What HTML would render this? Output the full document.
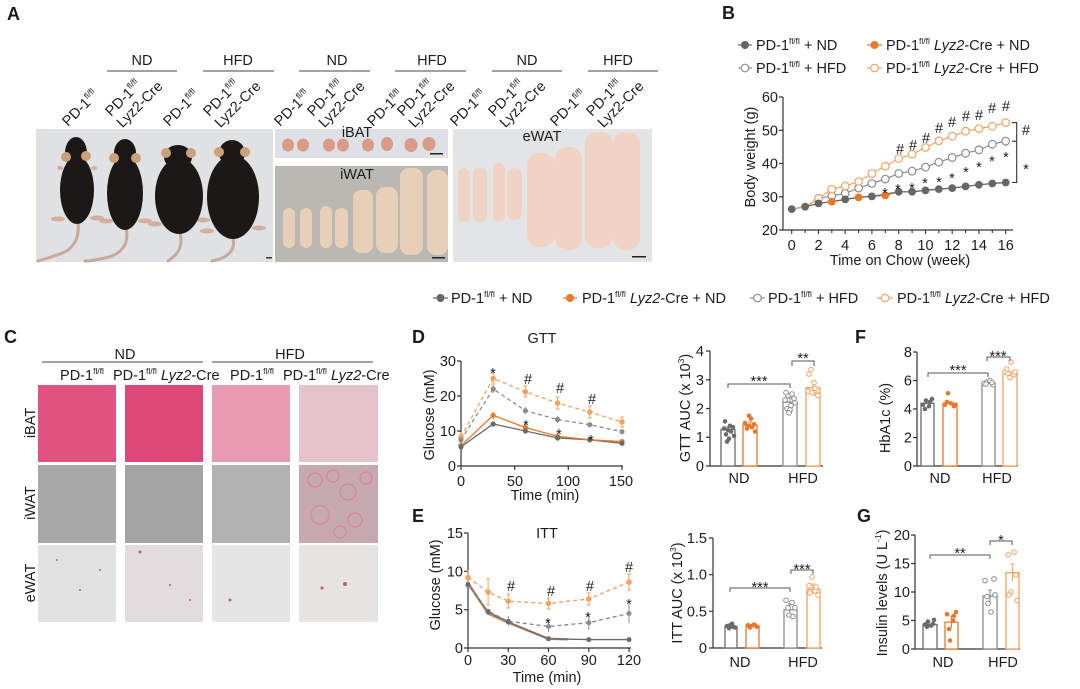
<!DOCTYPE html>
<html><head><meta charset="utf-8"><style>
html,body{margin:0;padding:0;background:#fff;}
svg{display:block;}
text{font-family:"Liberation Sans",Arial,sans-serif;fill:#1c1c1c;font-size:14.5px;}
.L{font-size:18px;font-weight:bold;}
.s{font-size:17px;}
.st{font-size:20px;}
.ss{font-size:20px;}
.ax{stroke:#333;stroke-width:1.2;fill:none;}
</style></head><body>
<svg width="1080" height="689" viewBox="0 0 1080 689" xmlns="http://www.w3.org/2000/svg">
<rect width="1080" height="689" fill="#fff"/>

<!-- ================= PANEL A ================= -->
<text class="L" x="7" y="20">A</text>
<g text-anchor="middle">
<text x="142" y="65">ND</text><text x="238" y="65">HFD</text>
<text x="337" y="65">ND</text><text x="432" y="65">HFD</text>
<text x="527" y="65">ND</text><text x="618" y="65">HFD</text>
</g>
<path d="M107,71H177M203,71H274M299,71H370M395,71H466M492,71H562M588,71H658" stroke="#444" stroke-width="1"/>

<g>
<text transform="translate(68,127) rotate(-45)">PD-1<tspan dy="-6" font-size="8.5">fl/fl</tspan></text>
<text transform="translate(169,127) rotate(-45)">PD-1<tspan dy="-6" font-size="8.5">fl/fl</tspan></text>
<text transform="translate(280,127) rotate(-45)">PD-1<tspan dy="-6" font-size="8.5">fl/fl</tspan></text>
<text transform="translate(373,127) rotate(-45)">PD-1<tspan dy="-6" font-size="8.5">fl/fl</tspan></text>
<text transform="translate(456,127) rotate(-45)">PD-1<tspan dy="-6" font-size="8.5">fl/fl</tspan></text>
<text transform="translate(556,127) rotate(-45)">PD-1<tspan dy="-6" font-size="8.5">fl/fl</tspan></text>
<g transform="translate(111,117) rotate(-45)"><text>PD-1<tspan dy="-6" font-size="8.5">fl/fl</tspan></text><text y="16">Lyz2-Cre</text></g>
<g transform="translate(209,117) rotate(-45)"><text>PD-1<tspan dy="-6" font-size="8.5">fl/fl</tspan></text><text y="16">Lyz2-Cre</text></g>
<g transform="translate(313,117) rotate(-45)"><text>PD-1<tspan dy="-6" font-size="8.5">fl/fl</tspan></text><text y="16">Lyz2-Cre</text></g>
<g transform="translate(403,117) rotate(-45)"><text>PD-1<tspan dy="-6" font-size="8.5">fl/fl</tspan></text><text y="16">Lyz2-Cre</text></g>
<g transform="translate(494,117) rotate(-45)"><text>PD-1<tspan dy="-6" font-size="8.5">fl/fl</tspan></text><text y="16">Lyz2-Cre</text></g>
<g transform="translate(592,117) rotate(-45)"><text>PD-1<tspan dy="-6" font-size="8.5">fl/fl</tspan></text><text y="16">Lyz2-Cre</text></g>
</g>

<!-- mouse photo -->
<rect x="36" y="129" width="237" height="133" fill="#dfe1e3"/>
<g fill="none" stroke="#c8a99c" stroke-width="3" stroke-linecap="round">
<path d="M78,222 C80,240 72,250 60,254 S42,260 38,261"/>
<path d="M126,228 C130,245 120,255 105,258 S90,261 85,261"/>
<path d="M180,233 C184,248 176,256 168,261"/>
<path d="M233,238 C236,250 228,258 212,261"/>
</g>
<g fill="#d2ae9f">
<ellipse cx="58" cy="219" rx="7" ry="2.5"/><ellipse cx="97" cy="218" rx="7" ry="2.5"/>
<ellipse cx="106" cy="221" rx="7" ry="2.5"/><ellipse cx="145" cy="221" rx="7" ry="2.5"/>
<ellipse cx="155" cy="224" rx="7" ry="2.5"/><ellipse cx="203" cy="220" rx="7" ry="2.5"/>
<ellipse cx="207" cy="231" rx="7" ry="2.5"/><ellipse cx="259" cy="228" rx="7" ry="2.5"/>
<ellipse cx="60" cy="168" rx="3" ry="2"/><ellipse cx="94" cy="168" rx="3" ry="2"/>
</g>
<g fill="#1c1816">
<ellipse cx="77" cy="190" rx="17" ry="34"/><ellipse cx="76" cy="153" rx="11" ry="16"/>
<ellipse cx="125" cy="193" rx="18" ry="37"/><ellipse cx="125" cy="153" rx="11" ry="14"/>
<ellipse cx="179" cy="196" rx="24" ry="38"/><ellipse cx="178" cy="157" rx="14" ry="12"/>
<ellipse cx="233" cy="197" rx="26" ry="42"/><ellipse cx="232" cy="153" rx="13" ry="13"/>
</g>
<g fill="#c9a27c">
<circle cx="66" cy="157" r="5"/><circle cx="86" cy="156" r="5"/>
<circle cx="114" cy="158" r="5"/><circle cx="136" cy="158" r="5"/>
<circle cx="166" cy="153" r="5"/><circle cx="191" cy="153" r="5"/>
<circle cx="219" cy="152" r="5"/><circle cx="245" cy="152" r="5"/>
</g>
<rect x="266" y="257" width="6" height="1.5" fill="#333"/>

<!-- iBAT -->
<rect x="275" y="129" width="173" height="29" fill="#dde0e4"/>
<g fill="#d99a88">
<ellipse cx="288" cy="145" rx="6" ry="6.5"/><ellipse cx="303" cy="145" rx="6" ry="6.5"/>
<ellipse cx="329" cy="145" rx="6" ry="6.5"/><ellipse cx="343" cy="145" rx="6" ry="6.5"/>
<ellipse cx="368" cy="145" rx="6" ry="6.5"/><ellipse cx="387" cy="144" rx="6" ry="7"/>
<ellipse cx="411" cy="145" rx="6.5" ry="7"/><ellipse cx="429" cy="144" rx="6.5" ry="7"/>
</g>
<text x="357" y="137" text-anchor="middle" font-size="10" fill="#444">iBAT</text>
<rect x="430" y="153" width="13" height="1.5" fill="#222"/>

<!-- iWAT -->
<rect x="275" y="166" width="173" height="96" fill="#b9b8b2"/>
<g fill="#e8d0b8">
<rect x="283" y="208" width="12" height="40" rx="6"/>
<rect x="300" y="208" width="12" height="40" rx="6"/>
<rect x="320" y="206" width="12" height="42" rx="6"/>
<rect x="335" y="208" width="13" height="40" rx="6"/>
<rect x="353" y="190" width="20" height="63" rx="8"/>
<rect x="376" y="187" width="22" height="66" rx="9"/>
<rect x="400" y="168" width="23" height="87" rx="9"/>
<rect x="427" y="170" width="21" height="85" rx="9"/>
</g>
<text x="357" y="179" text-anchor="middle" font-size="10" fill="#444">iWAT</text>
<rect x="432" y="257" width="13" height="1.5" fill="#222"/>

<!-- eWAT -->
<rect x="453" y="129" width="199" height="133" fill="#e3e4e5"/>
<g fill="#f0d3c4">
<rect x="458" y="168" width="12" height="54" rx="6"/>
<rect x="473" y="168" width="14" height="54" rx="6"/>
<rect x="493" y="163" width="12" height="59" rx="6"/>
<rect x="507" y="168" width="15" height="52" rx="7"/>
<rect x="527" y="153" width="28" height="94" rx="12"/>
<rect x="555" y="147" width="27" height="103" rx="12"/>
<rect x="585" y="132" width="28" height="116" rx="12"/>
<rect x="613" y="132" width="27" height="118" rx="12"/>
</g>
<text x="542" y="141" text-anchor="middle" font-size="10" fill="#444">eWAT</text>
<rect x="632" y="256" width="14" height="1.5" fill="#222"/>

<!-- ================= PANEL B ================= -->
<text class="L" x="722" y="19">B</text>
<path d="M738,45H752" stroke="#666" stroke-width="1.2"/><circle cx="745" cy="45" r="4" fill="#666"/>
<text x="756" y="50">PD-1<tspan dy="-6" font-size="8.5">fl/fl</tspan><tspan dy="6"> + ND</tspan></text>
<path d="M867,45H882" stroke="#e8782a" stroke-width="1.2"/><circle cx="874.5" cy="45" r="4" fill="#e8782a"/>
<text x="886" y="50">PD-1<tspan dy="-6" font-size="8.5">fl/fl</tspan><tspan dy="6"> </tspan><tspan font-style="italic">Lyz2</tspan>-Cre + ND</text>
<path d="M738,68H752" stroke="#8c8c8c" stroke-width="1.2"/><circle cx="745" cy="68" r="3.8" fill="#fff" stroke="#8c8c8c" stroke-width="1.2"/>
<text x="756" y="73">PD-1<tspan dy="-6" font-size="8.5">fl/fl</tspan><tspan dy="6"> + HFD</tspan></text>
<path d="M867,68H882" stroke="#f2a263" stroke-width="1.2"/><circle cx="874.5" cy="68" r="3.8" fill="#fff" stroke="#f2a263" stroke-width="1.2"/>
<text x="886" y="73">PD-1<tspan dy="-6" font-size="8.5">fl/fl</tspan><tspan dy="6"> </tspan><tspan font-style="italic">Lyz2</tspan>-Cre + HFD</text>

<path class="ax" d="M783,97V230H1013"/>
<path d="M779,230h4M779,196.75h4M779,163.5h4M779,130.25h4M779,97h4" stroke="#333" stroke-width="1.2"/>
<path d="M791.7,230v4M805.1,230v3M818.5,230v4M831.8,230v3M845.2,230v4M858.6,230v3M871.9,230v4M885.3,230v3M898.7,230v4M912.1,230v3M925.5,230v4M938.8,230v3M952.2,230v4M965.6,230v3M978.9,230v4M992.3,230v3M1005.7,230v4" stroke="#333" stroke-width="1.1"/>
<g text-anchor="end">
<text x="778" y="235">20</text><text x="778" y="201.75">30</text><text x="778" y="168.5">40</text><text x="778" y="135.25">50</text><text x="778" y="102">60</text>
</g>
<g text-anchor="middle">
<text x="791.7" y="250">0</text><text x="818.5" y="250">2</text><text x="845.2" y="250">4</text><text x="871.9" y="250">6</text><text x="898.7" y="250">8</text><text x="925.5" y="250">10</text><text x="952.2" y="250">12</text><text x="978.9" y="250">14</text><text x="1005.7" y="250">16</text>
<text x="900" y="265">Time on Chow (week)</text>
<text transform="translate(755,157) rotate(-90)">Body weight (g)</text>
</g>

<g fill="none" stroke-width="1.2">
<polyline stroke="#e8782a" points="791.7,209.1 805.1,206.7 818.5,203.4 831.8,201.7 845.2,199.4 858.6,197.4 871.9,196.4 885.3,195.4 898.7,191.8 912.1,191.8 925.5,190.4 938.8,189.1 952.2,188.1 965.6,186.4 978.9,184.8 992.3,183.5 1005.7,182.5"/>
<polyline stroke="#666" points="791.7,209.1 805.1,206.7 818.5,203.4 831.8,201.7 845.2,199.4 858.6,197.4 871.9,196.4 885.3,194.1 898.7,191.8 912.1,191.8 925.5,190.4 938.8,189.1 952.2,188.1 965.6,186.4 978.9,184.8 992.3,183.5 1005.7,182.5"/>
<polyline stroke="#8c8c8c" points="791.7,209.1 805.1,206.7 818.5,198.4 831.8,195.8 845.2,193.4 858.6,188.1 871.9,183.5 885.3,179.1 898.7,173.5 912.1,171.1 925.5,167.2 938.8,162.2 952.2,157.5 965.6,153.2 978.9,149.9 992.3,144.2 1005.7,141.2"/>
<polyline stroke="#f2a263" points="791.7,209.1 805.1,206.7 818.5,198.4 831.8,189.1 845.2,186.1 858.6,181.5 871.9,173.5 885.3,166.2 898.7,158.5 912.1,154.2 925.5,147.5 938.8,140.9 952.2,136.2 965.6,131.2 978.9,128.6 992.3,126.3 1005.7,122.6"/>
</g>
<path d="M912.1,167v8M925.5,163v8M938.8,158v8M952.2,153v9M965.6,149v9M978.9,145v9M992.3,140v9M1005.7,137v9" stroke="#8c8c8c" stroke-width="1"/>
<path d="M925.5,144v7M938.8,137v8M952.2,132v8M965.6,127v8M978.9,125v7M992.3,122v8M1005.7,118v9" stroke="#f2a263" stroke-width="1"/>
<g fill="#fff" stroke="#8c8c8c" stroke-width="1.2">
<circle cx="818.5" cy="198.4" r="3.8"/><circle cx="831.8" cy="195.8" r="3.8"/><circle cx="845.2" cy="193.4" r="3.8"/><circle cx="858.6" cy="188.1" r="3.8"/><circle cx="871.9" cy="183.5" r="3.8"/><circle cx="885.3" cy="179.1" r="3.8"/><circle cx="898.7" cy="173.5" r="3.8"/><circle cx="912.1" cy="171.1" r="3.8"/><circle cx="925.5" cy="167.2" r="3.8"/><circle cx="938.8" cy="162.2" r="3.8"/><circle cx="952.2" cy="157.5" r="3.8"/><circle cx="965.6" cy="153.2" r="3.8"/><circle cx="978.9" cy="149.9" r="3.8"/><circle cx="992.3" cy="144.2" r="3.8"/><circle cx="1005.7" cy="141.2" r="3.8"/>
</g>
<g fill="#fff" stroke="#f2a263" stroke-width="1.2">
<circle cx="818.5" cy="198.4" r="3.8"/><circle cx="831.8" cy="189.1" r="3.8"/><circle cx="845.2" cy="186.1" r="3.8"/><circle cx="858.6" cy="181.5" r="3.8"/><circle cx="871.9" cy="173.5" r="3.8"/><circle cx="885.3" cy="166.2" r="3.8"/><circle cx="898.7" cy="158.5" r="3.8"/><circle cx="912.1" cy="154.2" r="3.8"/><circle cx="925.5" cy="147.5" r="3.8"/><circle cx="938.8" cy="140.9" r="3.8"/><circle cx="952.2" cy="136.2" r="3.8"/><circle cx="965.6" cy="131.2" r="3.8"/><circle cx="978.9" cy="128.6" r="3.8"/><circle cx="992.3" cy="126.3" r="3.8"/><circle cx="1005.7" cy="122.6" r="3.8"/>
</g>
<g fill="#666">
<circle cx="791.7" cy="209.1" r="3.9"/><circle cx="805.1" cy="206.7" r="3.9"/><circle cx="818.5" cy="203.4" r="3.9"/><circle cx="845.2" cy="199.4" r="3.9"/><circle cx="871.9" cy="196.4" r="3.9"/><circle cx="898.7" cy="191.8" r="3.9"/><circle cx="912.1" cy="191.8" r="3.9"/><circle cx="925.5" cy="190.4" r="3.9"/><circle cx="938.8" cy="189.1" r="3.9"/><circle cx="952.2" cy="188.1" r="3.9"/><circle cx="965.6" cy="186.4" r="3.9"/><circle cx="978.9" cy="184.8" r="3.9"/><circle cx="992.3" cy="183.5" r="3.9"/><circle cx="1005.7" cy="182.5" r="3.9"/>
</g>
<g fill="#e8782a">
<circle cx="831.8" cy="201.7" r="3.9"/><circle cx="858.6" cy="197.4" r="3.9"/><circle cx="885.3" cy="195.4" r="3.9"/>
</g>
<g text-anchor="middle" class="s">
<text x="900" y="154">#</text><text x="913" y="150">#</text><text x="926" y="143">#</text><text x="939" y="133">#</text><text x="952" y="127">#</text><text x="966" y="121">#</text><text x="979" y="120">#</text><text x="992" y="113">#</text><text x="1006" y="111">#</text>
<text x="1026" y="135">#</text>
</g>
<g text-anchor="middle" class="st">
<text x="885" y="198">*</text><text x="898" y="194">*</text><text x="912" y="193">*</text><text x="925" y="188">*</text><text x="939" y="187">*</text><text x="952" y="183">*</text><text x="966" y="177">*</text><text x="979" y="172">*</text><text x="992" y="166">*</text><text x="1006" y="162">*</text>
<text x="1026" y="174">*</text>
</g>
<path d="M1012,122.6H1016.7V182.5H1012M1012,141.2H1016.7" stroke="#333" stroke-width="1.1" fill="none"/>

<!-- ================= MAIN LEGEND ================= -->
<path d="M433,298H448" stroke="#666" stroke-width="1.2"/><circle cx="440.5" cy="298" r="4" fill="#666"/>
<text x="451" y="303">PD-1<tspan dy="-6" font-size="8.5">fl/fl</tspan><tspan dy="6"> + ND</tspan></text>
<path d="M563,298H577" stroke="#e8782a" stroke-width="1.2"/><circle cx="570" cy="298" r="4" fill="#e8782a"/>
<text x="582" y="303">PD-1<tspan dy="-6" font-size="8.5">fl/fl</tspan><tspan dy="6"> </tspan><tspan font-style="italic">Lyz2</tspan>-Cre + ND</text>
<path d="M750,298H765" stroke="#8c8c8c" stroke-width="1.2"/><circle cx="757.5" cy="298" r="3.8" fill="#fff" stroke="#8c8c8c" stroke-width="1.2"/>
<text x="768" y="303">PD-1<tspan dy="-6" font-size="8.5">fl/fl</tspan><tspan dy="6"> + HFD</tspan></text>
<path d="M877,298H893" stroke="#f2a263" stroke-width="1.2"/><circle cx="885" cy="298" r="3.8" fill="#fff" stroke="#f2a263" stroke-width="1.2"/>
<text x="897" y="303">PD-1<tspan dy="-6" font-size="8.5">fl/fl</tspan><tspan dy="6"> </tspan><tspan font-style="italic">Lyz2</tspan>-Cre + HFD</text>

<!-- ================= PANEL C ================= -->
<text class="L" x="4" y="343">C</text>
<g text-anchor="middle">
<text x="125" y="359">ND</text><text x="290" y="359">HFD</text>
<text x="82" y="380">PD-1<tspan dy="-6" font-size="8.5">fl/fl</tspan></text>
<text x="252" y="380">PD-1<tspan dy="-6" font-size="8.5">fl/fl</tspan></text>
</g>
<text x="113" y="380">PD-1<tspan dy="-6" font-size="8.5">fl/fl</tspan><tspan dy="6"> </tspan><tspan font-style="italic">Lyz2</tspan>-Cre</text>
<text x="283" y="380">PD-1<tspan dy="-6" font-size="8.5">fl/fl</tspan><tspan dy="6"> </tspan><tspan font-style="italic">Lyz2</tspan>-Cre</text>
<path d="M42,362H203M212,362H373" stroke="#444" stroke-width="1"/>
<g text-anchor="middle">
<text transform="translate(35,423) rotate(-90)">iBAT</text>
<text transform="translate(35,503) rotate(-90)">iWAT</text>
<text transform="translate(35,583) rotate(-90)">eWAT</text>
</g>
<rect x="38" y="385" width="78" height="77" fill="#e0527f"/>
<rect x="125" y="385" width="78" height="77" fill="#dc4979"/>
<rect x="212" y="385" width="78" height="77" fill="#e89ab1"/>
<rect x="299" y="385" width="79" height="77" fill="#e4c3cc"/>
<rect x="38" y="465" width="78" height="78" fill="#a8a8a8"/>
<rect x="125" y="465" width="78" height="78" fill="#a5a4a5"/>
<rect x="212" y="465" width="78" height="78" fill="#b2b2b2"/>
<rect x="299" y="465" width="79" height="78" fill="#c6a8b1"/>
<rect x="38" y="545" width="78" height="77" fill="#e2e2e2"/>
<rect x="125" y="545" width="78" height="77" fill="#e2dbdd"/>
<rect x="212" y="545" width="78" height="77" fill="#e5e5e5"/>
<rect x="299" y="545" width="79" height="77" fill="#e6e3e3"/>
<g fill="none" stroke="#e27a9a" stroke-width="1.2" opacity="0.8">
<circle cx="315" cy="480" r="7"/><circle cx="333" cy="476" r="6"/><circle cx="348" cy="492" r="8"/><circle cx="320" cy="515" r="9"/><circle cx="355" cy="520" r="7"/><circle cx="340" cy="532" r="6"/><circle cx="366" cy="478" r="6"/>
</g>
<g fill="#b6607a">
<circle cx="57" cy="560" r="1"/><circle cx="80" cy="590" r="1"/><circle cx="100" cy="570" r="1"/><circle cx="140" cy="552" r="1.5"/><circle cx="170" cy="585" r="1"/><circle cx="190" cy="600" r="1"/><circle cx="230" cy="600" r="1.5"/><circle cx="345" cy="584" r="2"/><circle cx="322" cy="588" r="1.5"/>
</g>

<!-- ================= PANEL D ================= -->
<text class="L" x="412" y="343">D</text>
<text x="542" y="343" text-anchor="middle">GTT</text>
<path class="ax" d="M461,361V466H623"/>
<path d="M457,466h4M457,431h4M457,396h4M457,361h4M461,466v4M514.7,466v4M568.3,466v4M622,466v4" stroke="#333" stroke-width="1.2"/>
<g text-anchor="end"><text x="456" y="471">0</text><text x="456" y="436">10</text><text x="456" y="401">20</text><text x="456" y="366">30</text></g>
<g text-anchor="middle">
<text x="461" y="486">0</text><text x="515" y="486">50</text><text x="568" y="486">100</text><text x="621" y="486">150</text>
<text x="545" y="500">Time (min)</text>
<text transform="translate(434,415) rotate(-90)">Glucose (mM)</text>
</g>
<g fill="none" stroke-width="1.3">
<polyline stroke="#6b6b6b" points="461,446.8 493.2,424 525.4,431 557.6,438 589.8,439.8 622,443.3"/>
<polyline stroke="#e8782a" points="461,445.7 493.2,415.3 525.4,427.5 557.6,436.3 589.8,439.8 622,441.5"/>
<polyline stroke="#8c8c8c" stroke-dasharray="4,3" points="461,439.8 493.2,389 525.4,410.7 557.6,419.5 589.8,424.7 622,431.7"/>
<polyline stroke="#f2a263" stroke-dasharray="4,3" points="461,437 493.2,378.5 525.4,391.8 557.6,403 589.8,412.1 622,421.9"/>
</g>
<path d="M461,432v10M493.2,373v11M525.4,386v11M557.6,397v12M589.8,406v12M622,417v10M491,373h4M491,384h4M523.4,386h4M523.4,397h4M555.6,397h4M555.6,409h4M587.8,406h4M587.8,418h4M620,417h4M620,427h4" stroke="#f2a263" stroke-width="1"/>
<path d="M493.2,385v8M525.4,407v7M557.6,416v7M622,429v5" stroke="#8c8c8c" stroke-width="1"/>
<path d="M525.4,423v9M493.2,412v7" stroke="#e8782a" stroke-width="1"/>
<g fill="#f2a263"><circle cx="461" cy="437" r="2.8"/><circle cx="493.2" cy="378.5" r="2.8"/><circle cx="525.4" cy="391.8" r="2.8"/><circle cx="557.6" cy="403" r="2.8"/><circle cx="589.8" cy="412.1" r="2.8"/><circle cx="622" cy="421.9" r="2.8"/></g>
<g fill="#8c8c8c"><circle cx="461" cy="439.8" r="2.6"/><circle cx="493.2" cy="389" r="2.6"/><circle cx="525.4" cy="410.7" r="2.6"/><circle cx="557.6" cy="419.5" r="2.6"/><circle cx="589.8" cy="424.7" r="2.6"/><circle cx="622" cy="431.7" r="2.6"/></g>
<g fill="#e8782a"><circle cx="461" cy="445.7" r="2.6"/><circle cx="493.2" cy="415.3" r="2.6"/><circle cx="525.4" cy="427.5" r="2.6"/><circle cx="557.6" cy="436.3" r="2.6"/><circle cx="589.8" cy="439.8" r="2.6"/><circle cx="622" cy="441.5" r="2.6"/></g>
<g fill="#6b6b6b"><circle cx="461" cy="446.8" r="2.6"/><circle cx="493.2" cy="424" r="2.6"/><circle cx="525.4" cy="431" r="2.6"/><circle cx="557.6" cy="438" r="2.6"/><circle cx="589.8" cy="439.8" r="2.6"/><circle cx="622" cy="443.3" r="2.6"/></g>
<g text-anchor="middle" class="s">
<text x="528" y="384">#</text><text x="560" y="393">#</text><text x="592" y="404">#</text>
</g>
<g text-anchor="middle" class="st">
<text x="493" y="378">*</text>
<text x="526" y="430">*</text><text x="559" y="439">*</text><text x="591" y="445">*</text>
</g>

<!-- GTT AUC -->
<path class="ax" d="M710,351V466H823"/>
<path d="M706,466h4M706,437.25h4M706,408.5h4M706,379.75h4M706,351h4" stroke="#333" stroke-width="1.2"/>
<g text-anchor="end"><text x="704" y="471">0</text><text x="704" y="442">1</text><text x="704" y="413.5">2</text><text x="704" y="385">3</text><text x="704" y="356">4</text></g>
<g text-anchor="middle"><text x="739" y="483">ND</text><text x="803" y="483">HFD</text>
<text transform="translate(690,408) rotate(-90)">GTT AUC (x 10<tspan dy="-6" font-size="8.5">3</tspan><tspan dy="6">)</tspan></text></g>
<g fill="#fff" stroke-width="1.3">
<rect x="721" y="429.5" width="14" height="36.5" stroke="#6b6b6b"/>
<rect x="743" y="425.2" width="14" height="40.8" stroke="#e8782a"/>
<rect x="783" y="402.2" width="14" height="63.8" stroke="#8c8c8c"/>
<rect x="806" y="387.8" width="14" height="78.2" stroke="#f2a263"/>
</g>
<path d="M728,427v5M726,427h4" stroke="#6b6b6b" stroke-width="1"/>
<path d="M750,422v6M748,422h4" stroke="#e8782a" stroke-width="1"/>
<path d="M790,398v8M788,398h4" stroke="#8c8c8c" stroke-width="1"/>
<path d="M813,382v12M811,382h4" stroke="#f2a263" stroke-width="1"/>
<g fill="#6b6b6b"><circle cx="724" cy="428.6" r="2.3"/><circle cx="728" cy="430.1" r="2.3"/><circle cx="731" cy="431.5" r="2.3"/><circle cx="733" cy="427.2" r="2.3"/><circle cx="726" cy="434.4" r="2.3"/><circle cx="729" cy="438.7" r="2.3"/><circle cx="734" cy="435.8" r="2.3"/><circle cx="725" cy="421.4" r="2.3"/><circle cx="730" cy="425.8" r="2.3"/><circle cx="727" cy="441.6" r="2.3"/></g>
<g fill="#e8782a"><circle cx="745" cy="422.9" r="2.3"/><circle cx="748" cy="425.8" r="2.3"/><circle cx="751" cy="418.6" r="2.3"/><circle cx="754" cy="424.3" r="2.3"/><circle cx="747" cy="428.6" r="2.3"/><circle cx="752" cy="427.2" r="2.3"/><circle cx="755" cy="431.5" r="2.3"/><circle cx="749" cy="415.7" r="2.3"/></g>
<g fill="#fff" stroke="#8c8c8c" stroke-width="1"><circle cx="785" cy="399.9" r="2.3"/><circle cx="788" cy="395.6" r="2.3"/><circle cx="791" cy="405.6" r="2.3"/><circle cx="794" cy="398.4" r="2.3"/><circle cx="787" cy="408.5" r="2.3"/><circle cx="790" cy="409.9" r="2.3"/><circle cx="795" cy="402.8" r="2.3"/><circle cx="786" cy="392.7" r="2.3"/><circle cx="792" cy="394.1" r="2.3"/><circle cx="789" cy="412.8" r="2.3"/></g>
<g fill="#fff" stroke="#f2a263" stroke-width="1"><circle cx="808" cy="391.3" r="2.3"/><circle cx="811" cy="369.7" r="2.3"/><circle cx="814" cy="382.6" r="2.3"/><circle cx="817" cy="394.1" r="2.3"/><circle cx="809" cy="374" r="2.3"/><circle cx="812" cy="392.7" r="2.3"/><circle cx="815" cy="388.4" r="2.3"/><circle cx="818" cy="395.6" r="2.3"/></g>
<path d="M728,388V384H790V388M792,366V361H814V366" stroke="#555" stroke-width="1" fill="none"/>
<g text-anchor="middle" class="ss"><text x="759" y="386">***</text><text x="803" y="363">**</text></g>

<!-- ================= PANEL F ================= -->
<text class="L" x="855" y="343">F</text>
<path class="ax" d="M917,352V466H1018"/>
<path d="M913,466h4M913,437.5h4M913,409h4M913,380.5h4M913,352h4" stroke="#333" stroke-width="1.2"/>
<g text-anchor="end"><text x="912" y="471">0</text><text x="912" y="442.5">2</text><text x="912" y="414">4</text><text x="912" y="385.5">6</text><text x="912" y="357">8</text></g>
<g text-anchor="middle"><text x="940" y="483">ND</text><text x="997" y="483">HFD</text>
<text transform="translate(890,418) rotate(-90)">HbA1c (%)</text></g>
<g fill="#fff" stroke-width="1.3">
<rect x="921" y="403.3" width="13" height="62.7" stroke="#6b6b6b"/>
<rect x="943" y="403.3" width="14" height="62.7" stroke="#e8782a"/>
<rect x="982" y="383.4" width="13" height="82.6" stroke="#8c8c8c"/>
<rect x="1003" y="372" width="14" height="94" stroke="#f2a263"/>
</g>
<g fill="#6b6b6b"><circle cx="923" cy="404.7" r="2.3"/><circle cx="926" cy="400.5" r="2.3"/><circle cx="929" cy="406.2" r="2.3"/><circle cx="932" cy="399" r="2.3"/><circle cx="925" cy="409" r="2.3"/><circle cx="930" cy="401.9" r="2.3"/></g>
<g fill="#e8782a"><circle cx="945" cy="404.7" r="2.3"/><circle cx="948" cy="393.3" r="2.3"/><circle cx="951" cy="403.3" r="2.3"/><circle cx="954" cy="406.2" r="2.3"/><circle cx="947" cy="401.9" r="2.3"/><circle cx="955" cy="404.7" r="2.3"/></g>
<g fill="#fff" stroke="#8c8c8c" stroke-width="1"><circle cx="984" cy="383.4" r="2.3"/><circle cx="987" cy="381.9" r="2.3"/><circle cx="990" cy="380.5" r="2.3"/><circle cx="993" cy="384.8" r="2.3"/><circle cx="986" cy="384.1" r="2.3"/><circle cx="992" cy="382.6" r="2.3"/></g>
<g fill="#fff" stroke="#f2a263" stroke-width="1"><circle cx="1005" cy="372" r="2.3"/><circle cx="1008" cy="373.4" r="2.3"/><circle cx="1011" cy="362" r="2.3"/><circle cx="1014" cy="374.8" r="2.3"/><circle cx="1007" cy="369.1" r="2.3"/><circle cx="1015" cy="372" r="2.3"/><circle cx="1010" cy="377.6" r="2.3"/></g>
<path d="M928,377V373H988V377M987,361V357H1010V361" stroke="#555" stroke-width="1" fill="none"/>
<g text-anchor="middle" class="ss"><text x="958" y="375">***</text><text x="998" y="361">***</text></g>

<!-- ================= PANEL E ================= -->
<text class="L" x="412" y="522">E</text>
<text x="547" y="538" text-anchor="middle">ITT</text>
<path class="ax" d="M468,533V648H631"/>
<path d="M464,648h4M464,609.7h4M464,571.3h4M464,533h4M468,648v4M508.3,648v4M548.5,648v4M588.8,648v4M629,648v4" stroke="#333" stroke-width="1.2"/>
<g text-anchor="end"><text x="463" y="653">0</text><text x="463" y="614.7">5</text><text x="463" y="576.3">10</text><text x="463" y="538">15</text></g>
<g text-anchor="middle">
<text x="468" y="665">0</text><text x="508.3" y="665">30</text><text x="548.5" y="665">60</text><text x="588.8" y="665">90</text><text x="629" y="665">120</text>
<text x="547" y="682">Time (min)</text>
<text transform="translate(440,585) rotate(-90)">Glucose (mM)</text>
</g>
<g fill="none" stroke-width="1.4">
<polyline stroke="#c08a68" stroke-width="2.4" points="468,582.8 488.1,613.5 508.3,622.7 548.5,638.8 568,639.3"/>
<polyline stroke="#6b6b6b" points="468,584.4 488.1,612 508.3,621.9 548.5,638.8 588.8,639.6 629,639.6"/>
<polyline stroke="#8c8c8c" stroke-dasharray="4,3" points="468,585.1 488.1,611.2 508.3,621.2 548.5,626.5 588.8,622.7 629,613.5"/>
<polyline stroke="#f2a263" stroke-dasharray="4,3" points="468,577.5 488.1,592 508.3,601.2 548.5,603.5 588.8,598.9 629,582.1"/>
</g>
<path d="M468,570v14M488.1,579v26M508.3,594v14M548.5,598v11M588.8,593v12M629,574v16M486.1,579h4M486.1,605h4M506.3,594h4M506.3,608h4M546.5,598h4M546.5,609h4M586.8,593h4M586.8,605h4M627,574h4M627,590h4" stroke="#f2a263" stroke-width="1"/>
<path d="M548.5,620v12M588.8,615v15M629,604v19M508.3,616v10" stroke="#8c8c8c" stroke-width="1"/>
<g fill="#f2a263"><circle cx="468" cy="577.5" r="2.8"/><circle cx="488.1" cy="592" r="2.8"/><circle cx="508.3" cy="601.2" r="2.8"/><circle cx="548.5" cy="603.5" r="2.8"/><circle cx="588.8" cy="598.9" r="2.8"/><circle cx="629" cy="582.1" r="2.8"/></g>
<g fill="#8c8c8c"><circle cx="468" cy="585.1" r="2.5"/><circle cx="488.1" cy="611.2" r="2.5"/><circle cx="508.3" cy="621.2" r="2.5"/><circle cx="548.5" cy="626.5" r="2.5"/><circle cx="588.8" cy="622.7" r="2.5"/><circle cx="629" cy="613.5" r="2.5"/></g>
<g fill="#6b6b6b"><circle cx="468" cy="584.4" r="2.5"/><circle cx="488.1" cy="612" r="2.5"/><circle cx="508.3" cy="621.9" r="2.5"/><circle cx="548.5" cy="638.8" r="2.5"/><circle cx="588.8" cy="639.6" r="2.5"/><circle cx="629" cy="639.6" r="2.5"/></g>
<g text-anchor="middle" class="s">
<text x="511" y="591">#</text><text x="551" y="596">#</text><text x="590" y="591">#</text><text x="629" y="572">#</text>
</g>
<g text-anchor="middle" class="st">
<text x="548" y="628">*</text><text x="588" y="622">*</text><text x="629" y="609">*</text>
</g>

<!-- ITT AUC -->
<path class="ax" d="M713,538V648H822"/>
<path d="M709,648h4M709,611.3h4M709,574.7h4M709,538h4" stroke="#333" stroke-width="1.2"/>
<g text-anchor="end"><text x="707" y="653">0</text><text x="707" y="616.3">0.5</text><text x="707" y="579.7">1.0</text><text x="707" y="543">1.5</text></g>
<g text-anchor="middle"><text x="740" y="667">ND</text><text x="803" y="667">HFD</text>
<text transform="translate(682,593) rotate(-90)">ITT AUC (x 10<tspan dy="-6" font-size="8.5">3</tspan><tspan dy="6">)</tspan></text></g>
<g fill="#fff" stroke-width="1.3">
<rect x="725" y="626.7" width="12" height="21.3" stroke="#6b6b6b"/>
<rect x="746" y="626" width="13" height="22" stroke="#e8782a"/>
<rect x="784" y="609.9" width="13" height="38.1" stroke="#8c8c8c"/>
<rect x="807" y="589.3" width="13" height="58.7" stroke="#f2a263"/>
</g>
<path d="M790,604v12M788,604h4" stroke="#8c8c8c" stroke-width="1"/>
<path d="M813,584v10M811,584h4" stroke="#f2a263" stroke-width="1"/>
<g fill="#6b6b6b"><circle cx="727" cy="626" r="2.3"/><circle cx="730" cy="625.3" r="2.3"/><circle cx="733" cy="626.7" r="2.3"/><circle cx="735" cy="627.5" r="2.3"/><circle cx="729" cy="628.2" r="2.3"/><circle cx="732" cy="623.8" r="2.3"/></g>
<g fill="#e8782a"><circle cx="748" cy="625.3" r="2.3"/><circle cx="751" cy="626" r="2.3"/><circle cx="754" cy="624.5" r="2.3"/><circle cx="757" cy="626.7" r="2.3"/><circle cx="750" cy="627.5" r="2.3"/><circle cx="755" cy="625.3" r="2.3"/></g>
<g fill="#fff" stroke="#8c8c8c" stroke-width="1"><circle cx="786" cy="600.3" r="2.3"/><circle cx="789" cy="615" r="2.3"/><circle cx="792" cy="602.5" r="2.3"/><circle cx="795" cy="607.7" r="2.3"/><circle cx="788" cy="607.7" r="2.3"/><circle cx="793" cy="616.5" r="2.3"/></g>
<g fill="#fff" stroke="#f2a263" stroke-width="1"><circle cx="809" cy="585.7" r="2.3"/><circle cx="812" cy="576.9" r="2.3"/><circle cx="815" cy="590.8" r="2.3"/><circle cx="818" cy="595.2" r="2.3"/><circle cx="810" cy="593" r="2.3"/><circle cx="816" cy="587.1" r="2.3"/></g>
<path d="M730,592V588H790V592M791,574V570H813V574" stroke="#555" stroke-width="1" fill="none"/>
<g text-anchor="middle" class="ss"><text x="760" y="592">***</text><text x="802" y="574">***</text></g>

<!-- ================= PANEL G ================= -->
<text class="L" x="857" y="522">G</text>
<path class="ax" d="M915,535V649H1020"/>
<path d="M911,649h4M911,620.5h4M911,592h4M911,563.5h4M911,535h4" stroke="#333" stroke-width="1.2"/>
<g text-anchor="end"><text x="910" y="654">0</text><text x="910" y="625.5">5</text><text x="910" y="597">10</text><text x="910" y="568.5">15</text><text x="910" y="540">20</text></g>
<g text-anchor="middle"><text x="943" y="667">ND</text><text x="1003" y="667">HFD</text>
<text transform="translate(887,593) rotate(-90)">Insulin levels (U L<tspan dy="-6" font-size="8.5">-1</tspan><tspan dy="6">)</tspan></text></g>
<g fill="#fff" stroke-width="1.3">
<rect x="923" y="624.5" width="14" height="24.5" stroke="#6b6b6b"/>
<rect x="945" y="622.2" width="13" height="26.8" stroke="#e8782a"/>
<rect x="983" y="596" width="14" height="53" stroke="#8c8c8c"/>
<rect x="1006" y="572.6" width="13" height="76.4" stroke="#f2a263"/>
</g>
<path d="M951.5,616v12M949.5,616h4" stroke="#e8782a" stroke-width="1"/>
<path d="M990,590v12M988,590h4" stroke="#8c8c8c" stroke-width="1"/>
<path d="M1012.5,564v17M1010.5,564h4" stroke="#f2a263" stroke-width="1"/>
<g fill="#6b6b6b"><circle cx="925" cy="624.5" r="2.3"/><circle cx="928" cy="621.6" r="2.3"/><circle cx="931" cy="625.6" r="2.3"/><circle cx="934" cy="619.9" r="2.3"/><circle cx="927" cy="626.8" r="2.3"/><circle cx="933" cy="623.9" r="2.3"/></g>
<g fill="#e8782a"><circle cx="947" cy="614.2" r="2.3"/><circle cx="950" cy="640.5" r="2.3"/><circle cx="953" cy="620.5" r="2.3"/><circle cx="956" cy="612" r="2.3"/><circle cx="949" cy="629" r="2.3"/><circle cx="954" cy="615.9" r="2.3"/></g>
<g fill="#fff" stroke="#8c8c8c" stroke-width="1"><circle cx="985" cy="580.6" r="2.3"/><circle cx="988" cy="603.4" r="2.3"/><circle cx="991" cy="612" r="2.3"/><circle cx="994" cy="578.9" r="2.3"/><circle cx="987" cy="596.6" r="2.3"/><circle cx="995" cy="594.9" r="2.3"/></g>
<g fill="#fff" stroke="#f2a263" stroke-width="1"><circle cx="1008" cy="554.9" r="2.3"/><circle cx="1011" cy="592" r="2.3"/><circle cx="1014" cy="552.1" r="2.3"/><circle cx="1017" cy="600.5" r="2.3"/><circle cx="1009" cy="594.9" r="2.3"/><circle cx="1016" cy="574.9" r="2.3"/></g>
<path d="M930,559V555H990V559M990,545V541H1012V545" stroke="#555" stroke-width="1" fill="none"/>
<g text-anchor="middle" class="ss"><text x="960" y="558">**</text><text x="1001" y="545">*</text></g>

</svg>
</body></html>
